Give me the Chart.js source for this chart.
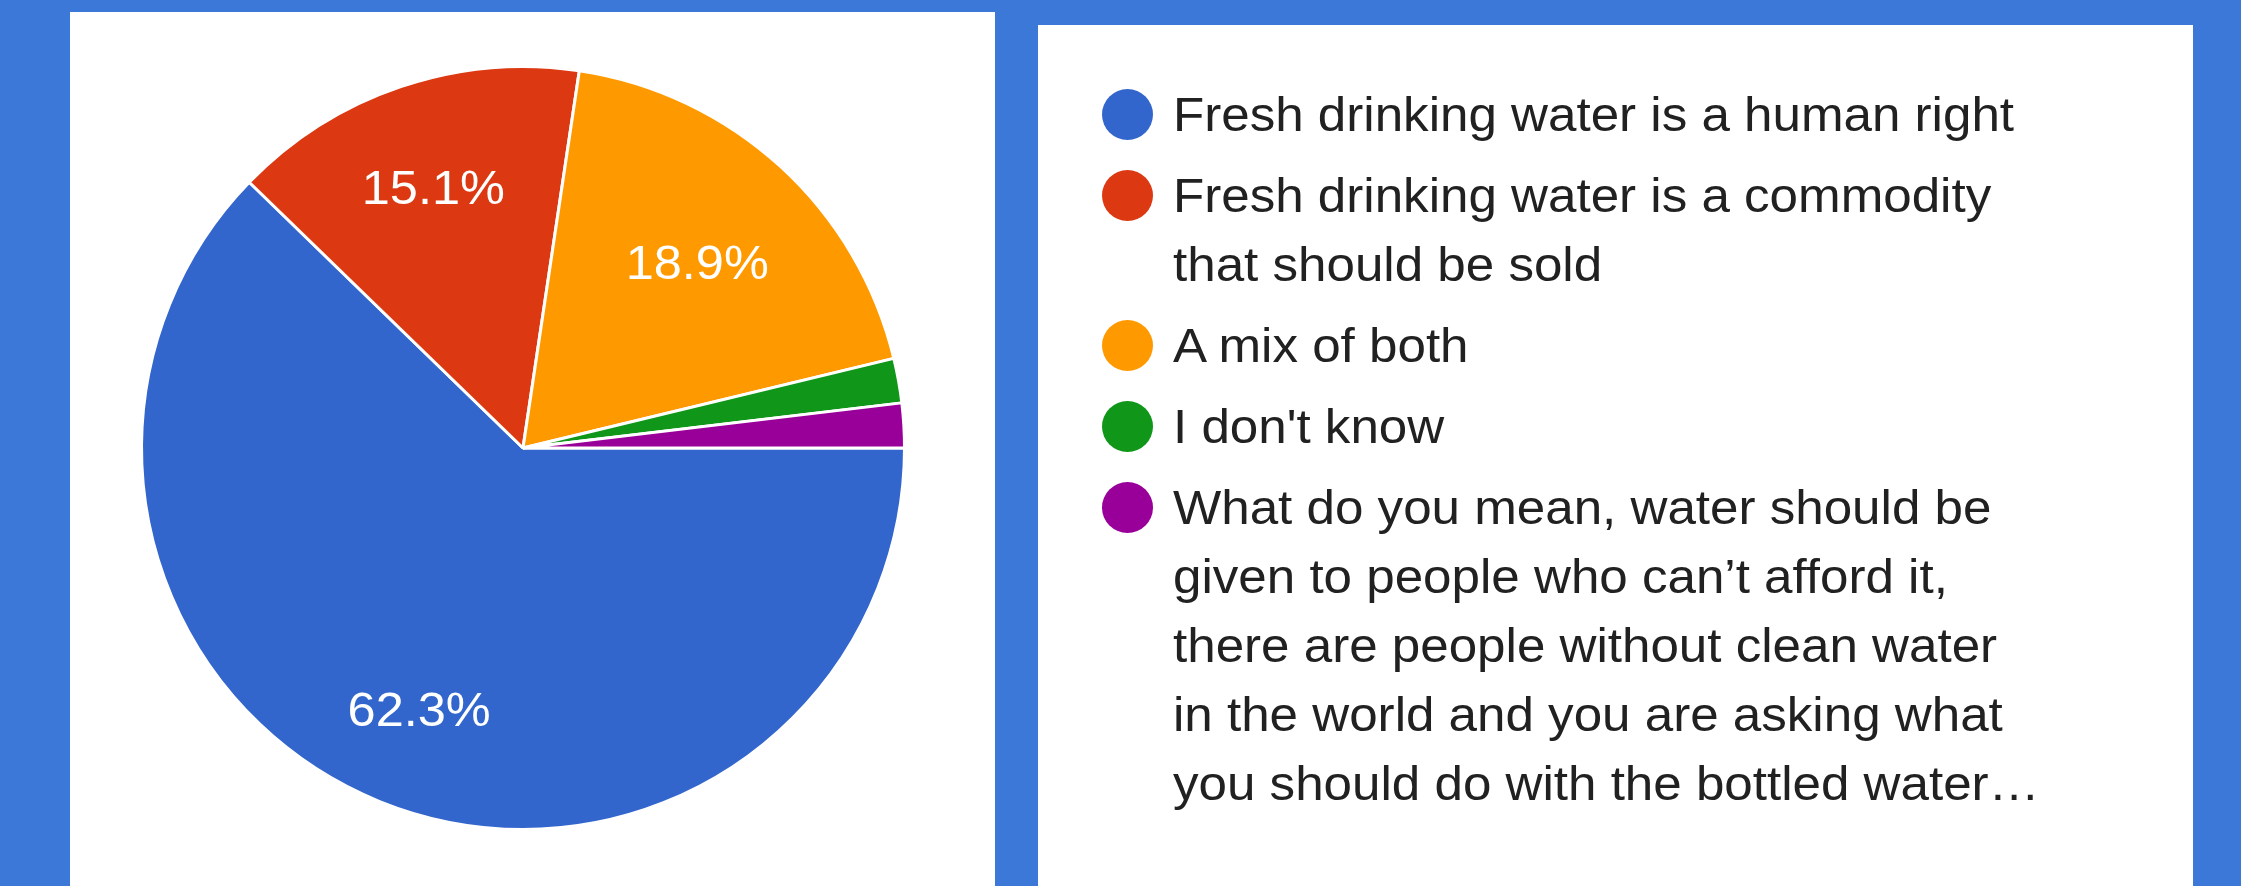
<!DOCTYPE html>
<html>
<head>
<meta charset="utf-8">
<script src="https://cdn.jsdelivr.net/npm/chart.js@4.4.1/dist/chart.umd.min.js"></script>
<style>
  html, body { margin: 0; padding: 0; width: 2241px; height: 886px; overflow: hidden; background: #3c78d8; }
  #left { position: absolute; left: 70px; top: 12px; width: 925px; height: 874px; background: #fff; }
  #right { position: absolute; left: 1038px; top: 25px; width: 1155px; height: 861px; background: #fff; }
  #pie { position: absolute; left: 53px; top: 36px; }
  #legend { position: absolute; left: 64px; top: 55px; }
  .item { display: flex; align-items: flex-start; margin-bottom: 12px; }
  .dot { width: 51px; height: 51px; border-radius: 50%; margin-top: 9px; flex: none; }
  .txt { margin-left: 20px; font-family: "Liberation Sans", Arial, sans-serif; font-size: 48px; line-height: 69px;
         color: #212121; white-space: nowrap; transform: scaleX(1.065); transform-origin: left center; }
</style>
</head>
<body>
<div id="left"><canvas id="pie" width="800" height="800"></canvas></div>
<div id="right"><div id="legend"></div></div>
<script>
// Categories (legend lines as they wrap in the picture)
const categories = [
  ["Fresh drinking water is a human right"],
  ["Fresh drinking water is a commodity", "that should be sold"],
  ["A mix of both"],
  ["I don't know"],
  ["What do you mean, water should be", "given to people who can\u2019t afford it,", "there are people without clean water", "in the world and you are asking what", "you should do with the bottled water\u2026"]
];
// Response counts (62.3%, 15.1%, 18.9%, 1.9%, 1.9%)
const responses = [33, 8, 10, 1, 1];
const sliceColors = ["#3366cc", "#dc3912", "#ff9900", "#109618", "#990099"];

const sliceLabels = {
  id: 'sliceLabels',
  afterDatasetsDraw(chart) {
    const ctx = chart.ctx;
    const meta = chart.getDatasetMeta(0);
    const data = chart.data.datasets[0].data;
    const total = data.reduce((a, b) => a + b, 0);
    ctx.save();
    ctx.font = '49px "Liberation Sans", Arial, sans-serif';
    ctx.fillStyle = '#ffffff';
    ctx.textAlign = 'center';
    ctx.textBaseline = 'middle';
    const sx = 1.03;
    meta.data.forEach((arc, i) => {
      const pct = data[i] / total * 100;
      if (pct < 5) return;
      const txt = pct.toFixed(1) + '%';
      const p = arc.getProps(['x', 'y', 'startAngle', 'endAngle', 'outerRadius'], true);
      const mid = (p.startAngle + p.endAngle) / 2;
      const hw = ctx.measureText(txt).width * sx / 2;
      const hh = 17;
      const c = Math.cos(mid), s = Math.sin(mid);
      const d = 0.836 * p.outerRadius - (Math.abs(c) * hw + Math.abs(s) * hh);
      const x = p.x + c * d, y = p.y + s * d;
      ctx.save();
      ctx.translate(x, y);
      ctx.scale(sx, 1);
      ctx.fillText(txt, 0, 8);
      ctx.restore();
    });
    ctx.restore();
  }
};

const chart = new Chart(document.getElementById('pie'), {
  type: 'pie',
  data: {
    labels: categories,
    datasets: [{
      data: responses,
      backgroundColor: sliceColors,
      borderColor: '#ffffff',
      borderWidth: 3,
      hoverOffset: 0,
      offset: 0
    }]
  },
  options: {
    responsive: false,
    animation: false,
    rotation: 90,
    layout: { padding: 17 },
    plugins: { legend: { display: false }, tooltip: { enabled: false } }
  },
  plugins: [sliceLabels]
});

// HTML legend built from the chart's own data
const legend = document.getElementById('legend');
chart.data.labels.forEach((lines, i) => {
  const item = document.createElement('div');
  item.className = 'item';
  const dot = document.createElement('div');
  dot.className = 'dot';
  dot.style.background = chart.data.datasets[0].backgroundColor[i];
  const txt = document.createElement('div');
  txt.className = 'txt';
  lines.forEach((l, j) => {
    if (j) txt.appendChild(document.createElement('br'));
    txt.appendChild(document.createTextNode(l));
  });
  item.appendChild(dot);
  item.appendChild(txt);
  legend.appendChild(item);
});
</script>
</body>
</html>
